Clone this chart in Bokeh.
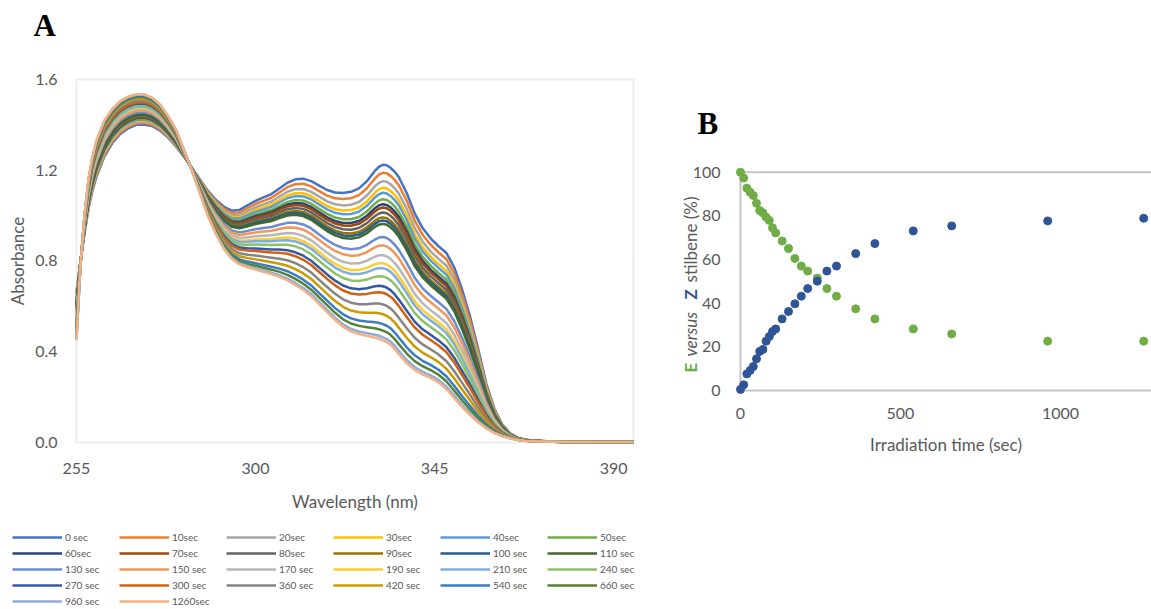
import numpy as np
from bokeh.plotting import figure
from bokeh.models import (Legend, LegendItem, Label, FixedTicker, Range1d,
                          PrintfTickFormatter, BoxAnnotation)
from bokeh.layouts import row
from bokeh.embed import file_html
from bokeh.resources import INLINE

# ---------------- data ----------------
wavelength_nm = [255, 256, 257, 258, 259, 260, 262, 264, 266, 268, 270, 272, 274, 276, 278,
                 280, 282, 284, 286, 288, 290, 292, 294, 296, 298, 300, 302, 304, 306, 308,
                 310, 312, 314, 316, 318, 320, 322, 324, 326, 328, 329, 330, 331, 332, 333,
                 334, 335, 336, 338, 340, 342, 344, 346, 348, 350, 352, 354, 356, 358, 360,
                 362, 364, 366, 368, 370, 375, 380, 385, 390, 395]

# spectrum at 0 sec
abs_0sec = [0.66, 0.80, 0.92, 1.03, 1.11, 1.17, 1.26, 1.32, 1.36, 1.385, 1.40, 1.402, 1.395, 1.375, 1.345,
            1.305, 1.26, 1.21, 1.16, 1.11, 1.07, 1.04, 1.022, 1.025, 1.045, 1.065, 1.08, 1.095, 1.12, 1.145,
            1.16, 1.163, 1.152, 1.132, 1.113, 1.102, 1.10, 1.105, 1.12, 1.152, 1.175, 1.197, 1.215, 1.224, 1.222,
            1.21, 1.193, 1.17, 1.10, 1.01, 0.945, 0.90, 0.865, 0.835, 0.77, 0.67, 0.55, 0.41, 0.26, 0.15,
            0.08, 0.04, 0.02, 0.012, 0.008, 0.004, 0.003, 0.002, 0.002, 0.002]

# spectrum at 1260 sec
abs_1260sec = [0.45, 0.78, 1.00, 1.16, 1.26, 1.33, 1.42, 1.47, 1.505, 1.525, 1.535, 1.535, 1.52, 1.49, 1.44,
               1.38, 1.29, 1.20, 1.10, 1.00, 0.92, 0.855, 0.81, 0.785, 0.772, 0.762, 0.752, 0.742, 0.73, 0.715,
               0.695, 0.672, 0.645, 0.61, 0.575, 0.54, 0.51, 0.49, 0.478, 0.47, 0.466, 0.462, 0.457, 0.45, 0.442,
               0.43, 0.412, 0.39, 0.35, 0.32, 0.30, 0.285, 0.265, 0.235, 0.195, 0.155, 0.12, 0.088, 0.062, 0.042,
               0.028, 0.018, 0.011, 0.007, 0.005, 0.003, 0.002, 0.002, 0.002, 0.002]

times_sec = [0, 10, 20, 30, 40, 50, 60, 70, 80, 90, 100, 110, 130, 150, 170, 190, 210, 240,
             270, 300, 360, 420, 540, 660, 960, 1260]

legend_labels = ["0 sec", "10sec", "20sec", "30sec", "40sec", "50sec",
                 "60sec", "70sec", "80sec", "90sec", "100 sec", "110 sec",
                 "130 sec", "150 sec", "170 sec", "190 sec", "210 sec", "240 sec",
                 "270 sec", "300 sec", "360 sec", "420 sec", "540 sec", "660 sec",
                 "960 sec", "1260sec"]

# absorbance of each spectrum at the 332 nm band
abs_at_332nm = [1.220, 1.184, 1.147, 1.117, 1.095, 1.066, 1.044, 1.029, 1.007, 0.985, 0.971, 0.956,
                0.897, 0.860, 0.816, 0.780, 0.758, 0.721, 0.677, 0.648, 0.596, 0.552, 0.508, 0.479,
                0.449, 0.435]

# panel B
E_percent = [100.0, 97.3, 92.7, 90.8, 89.3, 85.8, 82.4, 81.4, 79.4, 77.9, 74.5, 72.2, 68.5,
             65.0, 60.5, 57.0, 54.7, 51.5, 46.7, 43.2, 37.4, 32.8, 28.2, 25.9, 22.6, 22.6]
Z_percent = [0.5, 2.6, 7.6, 9.2, 11.0, 14.5, 17.9, 18.8, 22.6, 24.7, 27.0, 28.2, 32.8,
             36.2, 39.7, 43.2, 46.7, 50.1, 54.7, 57.0, 62.7, 67.3, 73.1, 75.4, 77.7, 78.9]

xticks_A = [255, 300, 345, 390]
yticks_A = [0, 0.4, 0.8, 1.2, 1.6]
xticks_B = [0, 500, 1000]
yticks_B = [0, 20, 40, 60, 80, 100]

series_colors = ["#4472C4", "#ED7D31", "#A5A5A5", "#FFC000", "#5B9BD5", "#70AD47",
                 "#264478", "#9E480E", "#636363", "#997300", "#255E91", "#43682B",
                 "#698ED0", "#F1975A", "#B7B7B7", "#FFCD33", "#7CAFDD", "#8CC168",
                 "#335AA1", "#D26012", "#848484", "#CC9A00", "#3A7CC2", "#548235",
                 "#8FAADC", "#F4B183"]

FONT = "Lato"
TXT = "#595959"
BORDER = "#C4C4C4"


def style_axis(ax):
    ax.axis_line_color = None
    ax.major_tick_line_color = None
    ax.minor_tick_line_color = None
    ax.major_tick_out = 0
    ax.major_tick_in = 0
    ax.minor_tick_out = 0
    ax.minor_tick_in = 0
    ax.major_label_text_font = FONT
    ax.major_label_text_font_size = "16px"
    ax.major_label_text_color = TXT
    ax.axis_label_text_font = FONT
    ax.axis_label_text_font_size = "17px"
    ax.axis_label_text_font_style = "normal"
    ax.axis_label_text_color = TXT


# ---------------- panel A ----------------
# the frame fills the whole canvas; the plot box 255-395 / 0-1.6 sits inside it
pA = figure(width=660, height=609,
            x_range=Range1d(235.90, 401.79), y_range=Range1d(-0.7361, 1.9482),
            output_backend="svg", toolbar_location=None,
            min_border_left=0, min_border_right=0, min_border_top=0, min_border_bottom=0)
pA.grid.visible = False
pA.outline_line_color = None

pA.add_layout(BoxAnnotation(left=wavelength_nm[0], right=wavelength_nm[-1],
                            bottom=yticks_A[0], top=yticks_A[-1], fill_alpha=0,
                            line_color=BORDER, line_width=2, level="underlay"))

w0 = np.array(abs_0sec)
w1 = np.array(abs_1260sec)
items = []
for i, t in enumerate(times_sec):
    frac = (abs_at_332nm[0] - abs_at_332nm[i]) / (abs_at_332nm[0] - abs_at_332nm[-1])
    spec = w0 + frac * (w1 - w0)
    r = pA.line(wavelength_nm, spec, line_color=series_colors[i], line_width=2.5,
                line_join="round")
    items.append(LegendItem(label=legend_labels[i], renderers=[r]))

xa = pA.below[0]
ya = pA.left[0]
style_axis(xa)
style_axis(ya)
xa.fixed_location = yticks_A[0]
ya.fixed_location = wavelength_nm[0]
xa.bounds = (wavelength_nm[0], wavelength_nm[-1])
ya.bounds = (yticks_A[0], yticks_A[-1])
xa.ticker = FixedTicker(ticks=xticks_A)
ya.ticker = FixedTicker(ticks=yticks_A)
ya.formatter = PrintfTickFormatter(format="%.1f")
xa.axis_label = "Wavelength (nm)"
ya.axis_label = "Absorbance"
xa.major_label_standoff = 21
xa.axis_label_standoff = 13
ya.major_label_standoff = 19
ya.axis_label_standoff = 4

legend = Legend(items=items, location=(12, 1), orientation="horizontal", ncols=6,
                glyph_width=50, glyph_height=14, label_height=14, label_width=52,
                label_standoff=3, spacing=2, padding=0, margin=0,
                border_line_color=None, background_fill_alpha=0,
                label_text_font=FONT, label_text_font_size="10px", label_text_color=TXT)
pA.add_layout(legend, "center")

pA.add_layout(Label(x=244.2, y=1.763, text="A",
                    text_font="Liberation Serif", text_font_style="bold",
                    text_font_size="31px", text_color="black"))

# ---------------- panel B ----------------
pB = figure(width=491, height=609,
            x_range=Range1d(-250, 1284.4), y_range=Range1d(-100.32, 178.65),
            output_backend="svg", toolbar_location=None,
            min_border_left=0, min_border_right=0, min_border_top=0, min_border_bottom=0)
pB.grid.visible = False
pB.outline_line_color = None

# plot-area border: left, bottom and top lines
pB.segment(x0=[xticks_B[0], xticks_B[0], xticks_B[0]], y0=[yticks_B[0], yticks_B[0], yticks_B[-1]],
           x1=[xticks_B[0], pB.x_range.end, pB.x_range.end], y1=[yticks_B[-1], yticks_B[0], yticks_B[-1]],
           line_color=BORDER, line_width=2)

pB.scatter(times_sec, E_percent, size=8, color="#70AD47")
pB.scatter(times_sec, Z_percent, size=8, color="#2F5597")

xb = pB.below[0]
yb = pB.left[0]
style_axis(xb)
style_axis(yb)
xb.fixed_location = yticks_B[0]
yb.fixed_location = xticks_B[0]
xb.bounds = (xticks_B[0], pB.x_range.end)
yb.bounds = (yticks_B[0], yticks_B[-1])
xb.ticker = FixedTicker(ticks=xticks_B)
yb.ticker = FixedTicker(ticks=yticks_B)
xb.axis_label = "Irradiation time (sec)"
xb.major_label_standoff = 18
xb.axis_label_standoff = 11
yb.major_label_standoff = 20

ytitle_parts = [("E", 8.25, "bold", "#70AD47"),
                ("versus", 15.6, "italic", TXT),
                ("Z", 41.7, "bold", "#2F5597"),
                ("stilbene (%)", 49.5, "normal", TXT)]
for txt, ys, style, col in ytitle_parts:
    pB.add_layout(Label(x=-156.25, y=ys, text=txt,
                        angle=np.pi / 2, text_align="left", text_baseline="alphabetic",
                        text_font=FONT, text_font_size="17px", text_font_style=style,
                        text_color=col))

pB.add_layout(Label(x=-134.4, y=114.5, text="B",
                    text_font="Liberation Serif", text_font_style="bold",
                    text_font_size="31px", text_color="black"))

layout = row(pA, pB, spacing=0)
open("out.html", "w").write(file_html(layout, INLINE))
